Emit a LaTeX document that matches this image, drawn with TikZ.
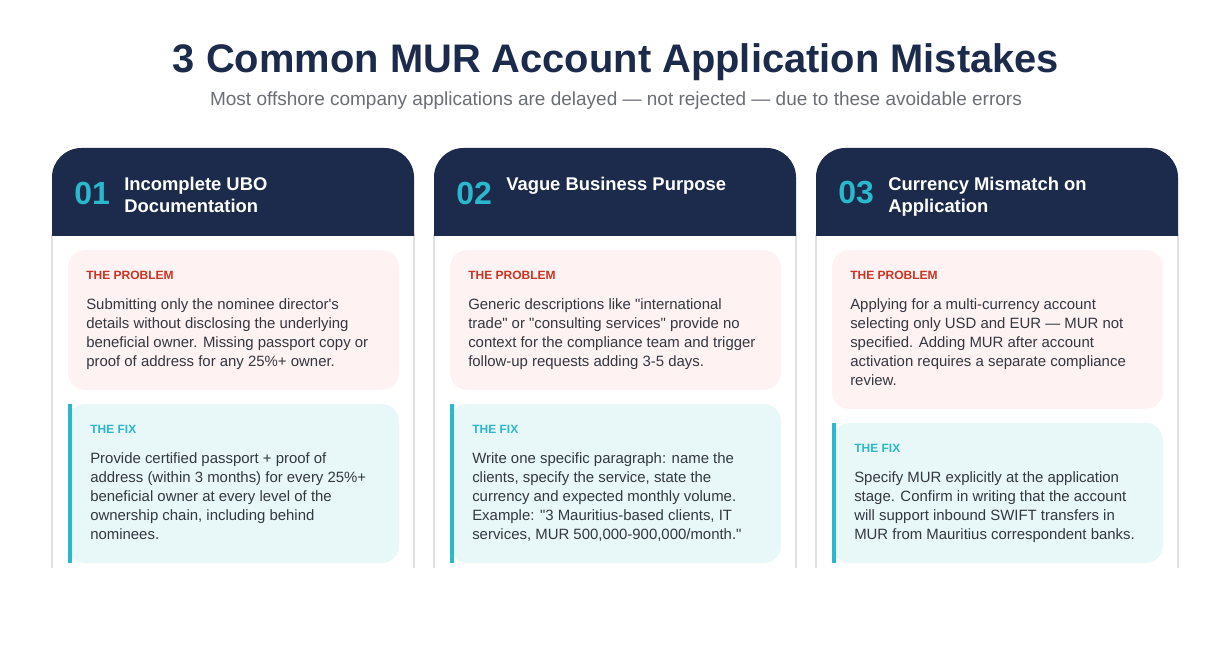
\documentclass[tikz,border=0pt]{standalone}
\usepackage{fontspec}
\setmainfont{Liberation Sans}[Ligatures=TeXOff]
\definecolor{navy}{HTML}{1C2B4B}
\definecolor{teal}{HTML}{2BB8CC}
\definecolor{probred}{HTML}{CC3322}
\definecolor{pinkbg}{HTML}{FFF2F2}
\definecolor{fixbg}{HTML}{E8F8F8}
\definecolor{bodytxt}{HTML}{333740}
\definecolor{subtxt}{HTML}{6B6E75}
\definecolor{edge}{HTML}{DDE0E4}
\begin{document}
\begin{tikzpicture}[x=0.75pt,y=-0.75pt,
  lbl/.style={anchor=west,inner sep=0pt,font=\bfseries\fontsize{9}{11}\selectfont},
  body/.style={anchor=north west,inner sep=0pt,align=left,text=bodytxt,font=\fontsize{11.2}{14.25}\selectfont},
  num/.style={anchor=west,inner sep=0pt,text=teal,font=\bfseries\fontsize{24}{28}\selectfont},
  htitle/.style={anchor=north west,inner sep=0pt,align=left,text=white,font=\bfseries\fontsize{13.8}{16.2}\selectfont}]
\useasboundingbox (0,0) rectangle (1232,645);
\fill[white] (0,0) rectangle (1232,645);
\node[text=navy,font=\bfseries\fontsize{29.9}{35}\selectfont] (title) at (616,62) {3 Common MUR Account Application Mistakes};
\node[text=subtxt,font=\fontsize{14.25}{17}\selectfont] (sub) at (616,101) {Most offshore company applications are delayed — not rejected — due to these avoidable errors};
% cards
\foreach \x/\n/\t/\pb/\fb in {52/01/{Incomplete UBO\\Documentation}/390/404, 434/02/{Vague Business Purpose}/390/404, 816/03/{Currency Mismatch on\\Application}/409/423}{
  \draw[edge,line width=0.8pt] (\x,234) -- (\x,568) (\x+362,234) -- (\x+362,568);
  \fill[navy,rounded corners=22] (\x,236) -- (\x,148) -- (\x+362,148) -- (\x+362,236);
  \node[num] at (\x+22,193) {\n};
  \node[htitle] at (\x+72,177) {\t};
  \fill[pinkbg,rounded corners=13] (\x+16,250) rectangle (\x+347,\pb);
  \node[lbl,text=probred] at (\x+34,275) {THE PROBLEM};
  \fill[fixbg,rounded corners=13] (\x+16,\fb) rectangle (\x+347,563);
  \fill[teal] (\x+16,\fb) rectangle (\x+20,563);
  \node[lbl,text=teal] at (\x+38,\fb+25) {THE FIX};
}
\node[body] (p1) at (86,298) {Submitting only the nominee director's\\details without disclosing the underlying\\beneficial owner. Missing passport copy or\\proof of address for any 25\%+ owner.};
\node[body] (f1) at (90,452) {Provide certified passport + proof of\\address (within 3 months) for every 25\%+\\beneficial owner at every level of the\\ownership chain, including behind\\nominees.};
\node[body] (p2) at (468,298) {Generic descriptions like "international\\trade" or "consulting services" provide no\\context for the compliance team and trigger\\follow-up requests adding 3-5 days.};
\node[body] (f2) at (472,452) {Write one specific paragraph: name the\\clients, specify the service, state the\\currency and expected monthly volume.\\Example: "3 Mauritius-based clients, IT\\services, MUR 500,000-900,000/month."};
\node[body] (p3) at (850,298) {Applying for a multi-currency account\\selecting only USD and EUR — MUR not\\specified. Adding MUR after account\\activation requires a separate compliance\\review.};
\node[body] (f3) at (854,471) {Specify MUR explicitly at the application\\stage. Confirm in writing that the account\\will support inbound SWIFT transfers in\\MUR from Mauritius correspondent banks.};
\end{tikzpicture}
\end{document}
